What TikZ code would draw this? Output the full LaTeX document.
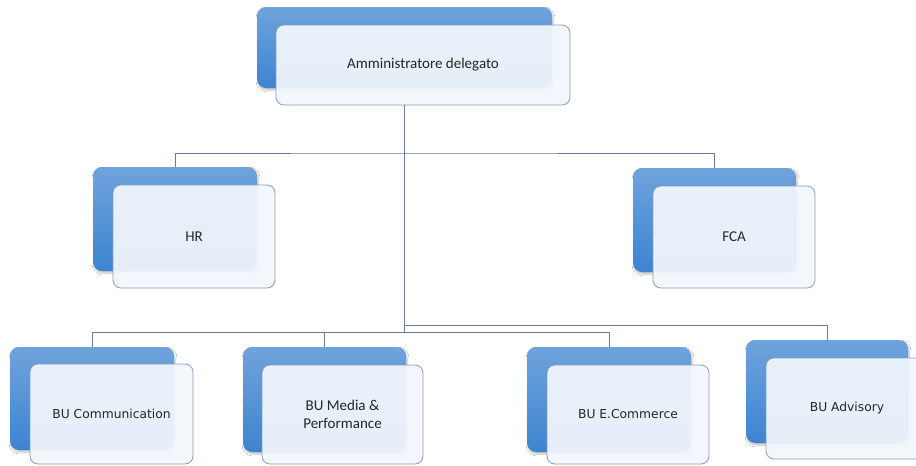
\documentclass[tikz,border=0pt]{standalone}
\usepackage{fontspec}
\setmainfont{Carlito}
\newfontfamily\tahomalike{DejaVu Sans}
\usetikzlibrary{shadows.blur}
\definecolor{blueTop}{HTML}{6FA3DC}
\definecolor{blueBot}{HTML}{3D84CF}
\definecolor{frontFill}{HTML}{F3F7FC}
\definecolor{frontDraw}{HTML}{8A9FB3}
\definecolor{connCol}{HTML}{687D93}
\definecolor{txtCol}{HTML}{262626}
\begin{document}
\begin{tikzpicture}[x=1pt,y=-1pt,
  backbox/.style={rounded corners=9pt, inner sep=0pt, outer sep=0pt,
    top color=blueTop, bottom color=blueBot, draw=none,
    blur shadow={shadow xshift=1pt, shadow yshift=-2pt, shadow blur steps=6, shadow opacity=25}},
  frontbox/.style={rounded corners=8pt, inner sep=0pt, outer sep=0pt,
    fill=frontFill, fill opacity=0.93, text opacity=1, draw=frontDraw, line width=0.8pt,
    text=txtCol, align=center, font=\fontsize{15}{18}\selectfont},
  tfont/.style={font=\tahomalike\fontsize{12.3}{15}\selectfont},
  conn/.style={draw=connCol, line width=0.9pt}
]
\clip (0,0) rectangle (916,466);
\fill[white] (0,0) rectangle (916,466);

% CEO
\node[backbox, minimum width=295pt, minimum height=81pt] (ceob) at (404.5,47.5) {};
\node[frontbox, minimum width=294pt, minimum height=80pt] (ceo) at (423,65) {Amministratore delegato};

% HR
\node[backbox, minimum width=164pt, minimum height=104pt] (hrb) at (175,219) {};
\node[frontbox, minimum width=162pt, minimum height=103pt] (hr) at (194,236.5) {HR};

% FCA
\node[backbox, minimum width=163pt, minimum height=104pt] (fcab) at (714.5,220) {};
\node[frontbox, minimum width=162pt, minimum height=102pt] (fca) at (734,237) {FCA};

% BU Communication
\node[backbox, minimum width=164pt, minimum height=103pt] (commb) at (92,398.5) {};
\node[frontbox, tfont, minimum width=163pt, minimum height=100pt] (comm) at (111.5,414) {BU Communication};

% BU Media
\node[backbox, minimum width=163pt, minimum height=105pt] (mediab) at (324.5,399.5) {};
\node[frontbox, minimum width=161pt, minimum height=99pt] (media) at (342.5,414.5) {BU Media \&\\Performance};

% BU E.Commerce
\node[backbox, minimum width=164pt, minimum height=105pt] (ecomb) at (609,399.5) {};
\node[frontbox, tfont, minimum width=162pt, minimum height=99pt] (ecom) at (628,414.5) {BU E.Commerce};

% BU Advisory
\node[backbox, minimum width=162pt, minimum height=103pt] (advb) at (827,391.5) {};
\node[frontbox, tfont, minimum width=162pt, minimum height=101pt] (adv) at (847,408.5) {BU Advisory};

% connectors
\coordinate (j1) at (404,153);
\coordinate (j2) at (404,332);
\coordinate (j3) at (404,325);
\draw[conn] (ceo.south -| j1) -- (j2);
\draw[conn] (hrb.north) |- (j1) -| (fcab.north);
\draw[conn] (commb.north) |- (ecomb.north |- j2) -- (ecomb.north);
\draw[conn] (mediab.north) -- (mediab.north |- j2);
\draw[conn] (j3) -| (advb.north);
\end{tikzpicture}
\end{document}
